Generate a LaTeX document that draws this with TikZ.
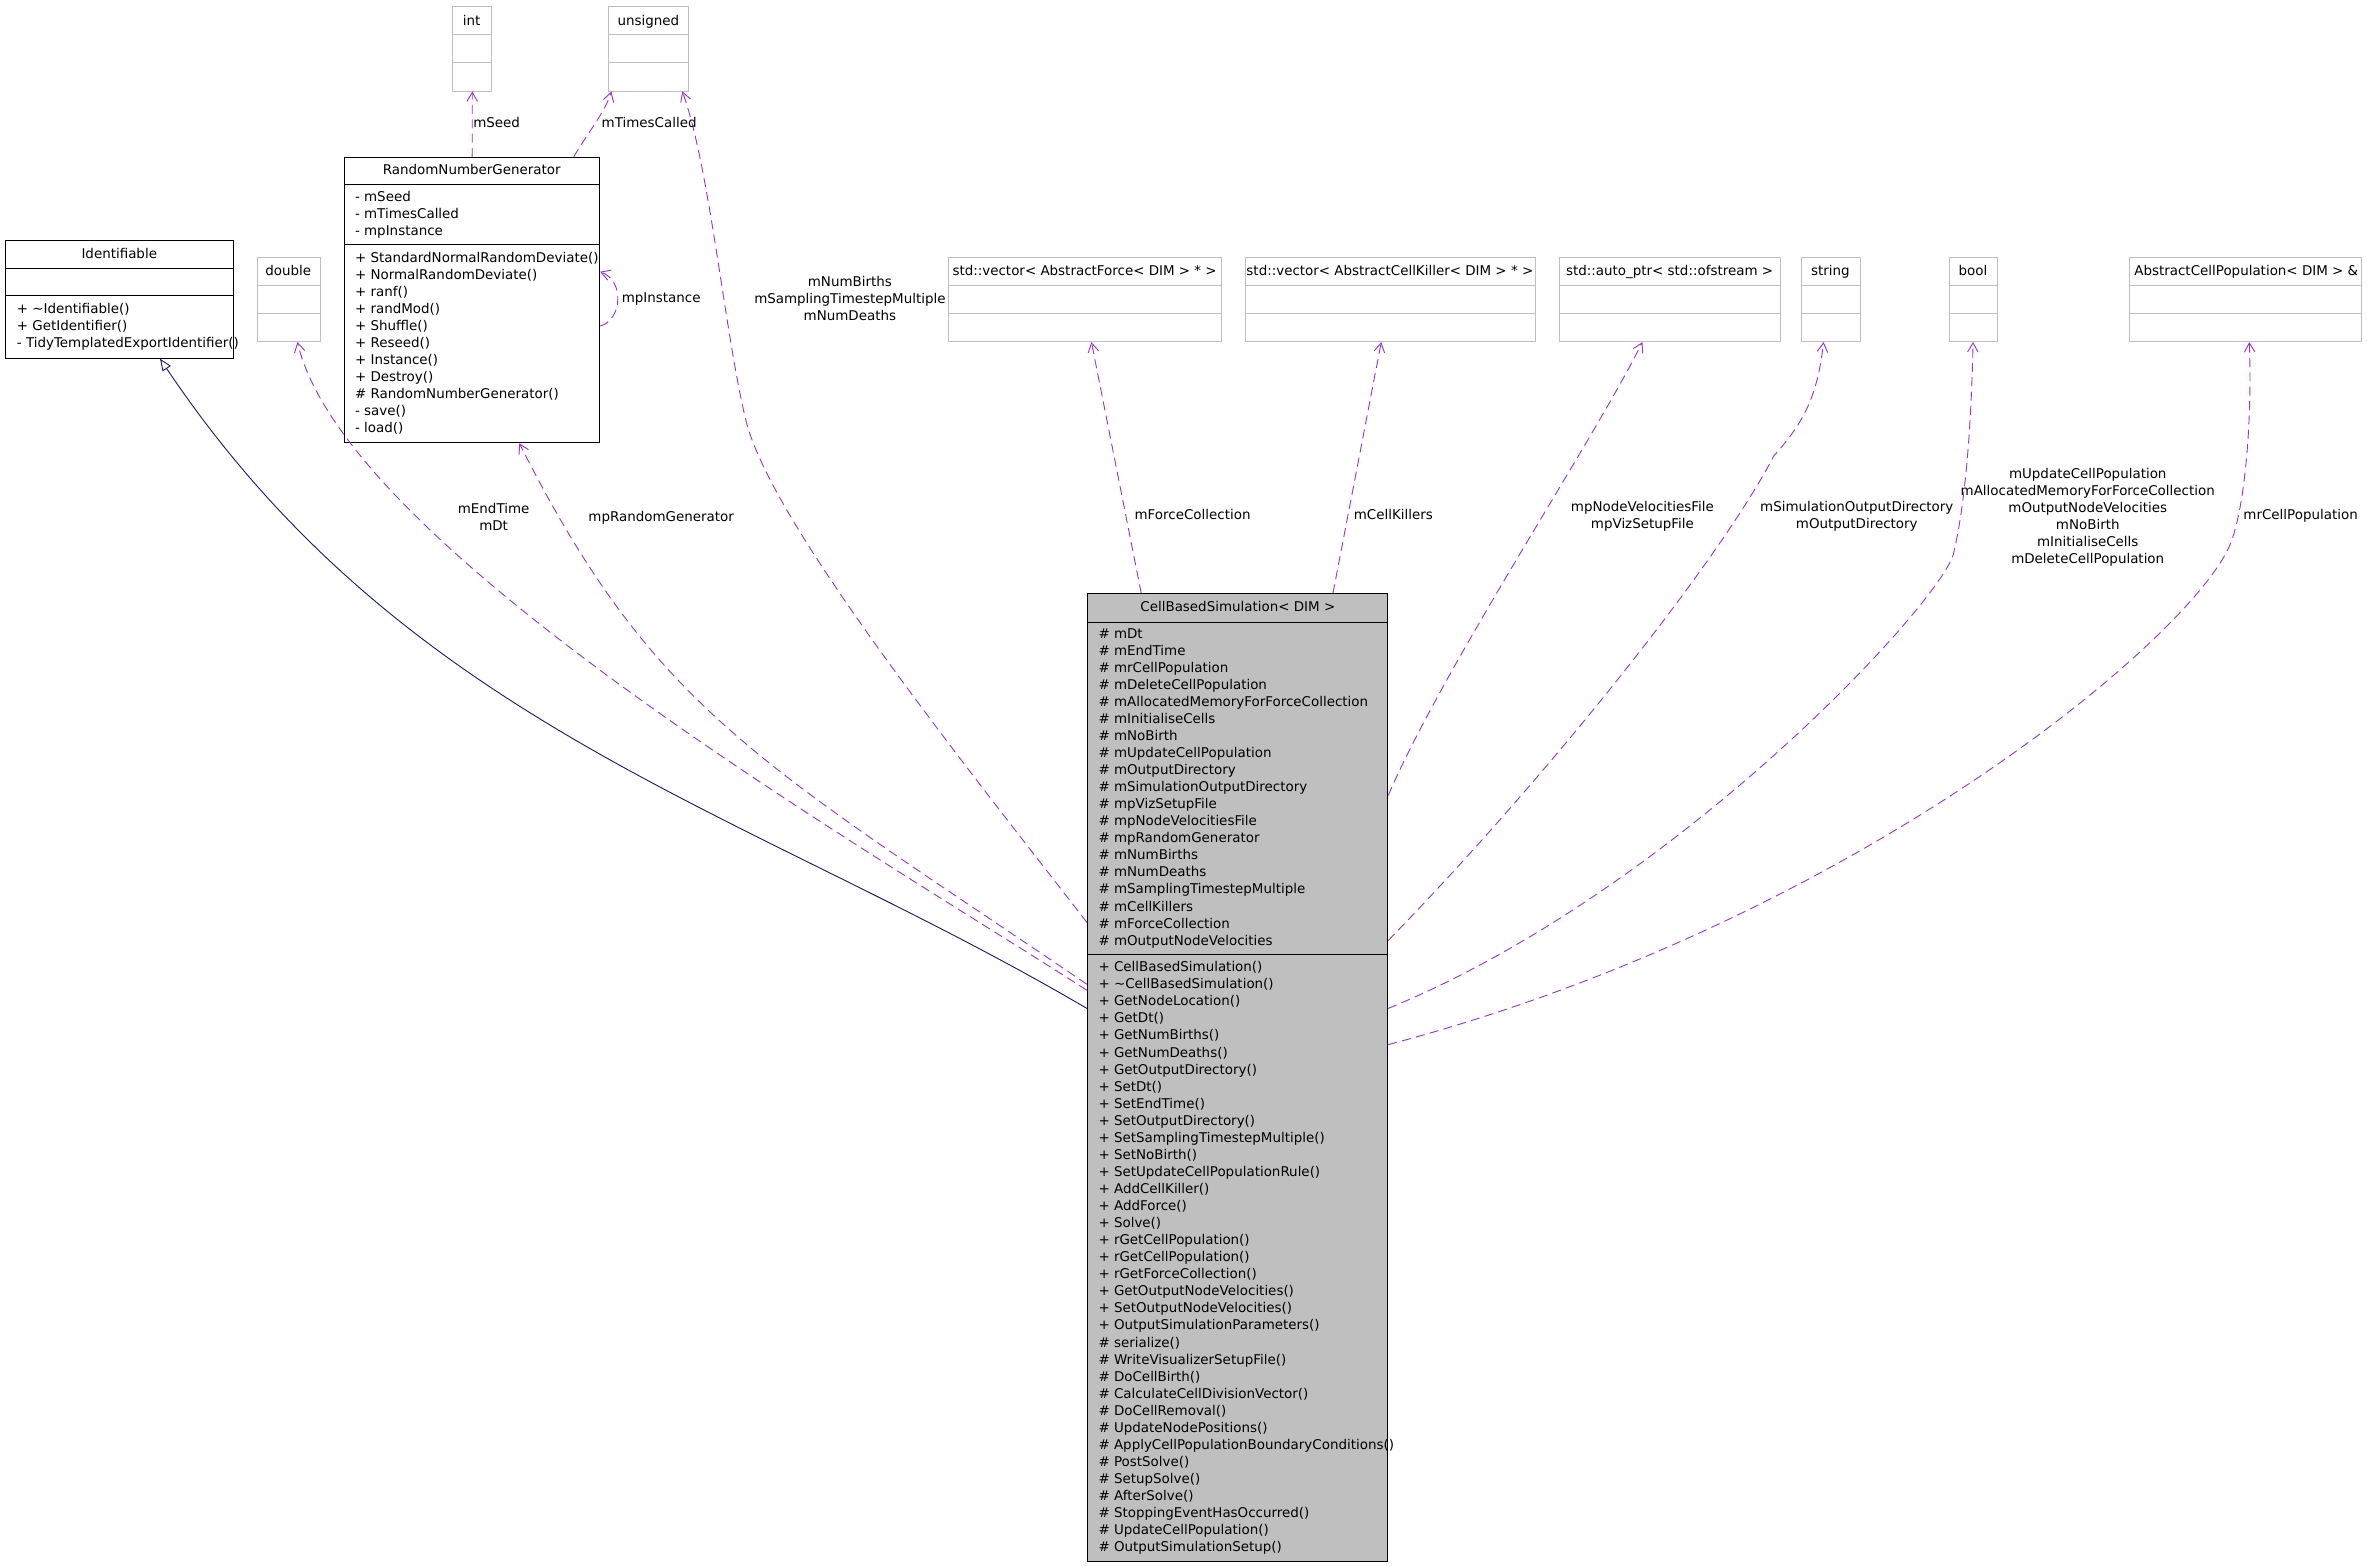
\documentclass[tikz,border=0pt]{standalone}
\usepackage{fontspec}
\setmainfont{DejaVu Sans}
\usetikzlibrary{arrows.meta,calc}
\definecolor{edgepurple}{HTML}{9A32CD}
\definecolor{inhnavy}{HTML}{191970}
\definecolor{boxgray}{HTML}{BFBFBF}
\tikzset{
  txt/.style={inner sep=0pt, font=\fontsize{8.9}{11.2}\selectfont},
  member/.style={txt, anchor=base west},
  ttl/.style={txt, anchor=base},
  lbl/.style={txt, align=center, anchor=center},
  classbox/.style={draw=black, line width=0.6pt, inner sep=0pt, anchor=north west},
  typebox/.style={draw=boxgray, line width=0.6pt, inner sep=0pt, anchor=north west, fill=white},
  sepblack/.style={draw=black, line width=0.6pt},
  sepgray/.style={draw=boxgray, line width=0.6pt},
  uses/.style={draw=edgepurple, line width=0.6pt, dash pattern=on 6pt off 3.5pt,
    -{Straight Barb[length=6pt,width=7pt,line width=0.6pt]}},
  inherits/.style={draw=inhnavy, line width=0.6pt,
    -{Triangle[open,length=8pt,width=6.5pt,line width=0.6pt]}},
}
\begin{document}
\begin{tikzpicture}[x=1pt,y=-1pt]
\useasboundingbox (0,0) rectangle (1568,1037);

% ---------- boxes ----------
\node[classbox, fill=white, minimum width=150.9pt, minimum height=78pt] (ident) at (3.6,159) {};
\node[typebox, minimum width=25.9pt, minimum height=56pt] (intn) at (299.6,4) {};
\node[typebox, minimum width=53pt, minimum height=56pt] (uns) at (403,4) {};
\node[typebox, minimum width=42.3pt, minimum height=56pt] (dbl) at (170,170) {};
\node[classbox, fill=white, minimum width=169pt, minimum height=189pt] (rng) at (228,104) {};
\node[typebox, minimum width=181pt, minimum height=56pt] (force) at (628,170) {};
\node[typebox, minimum width=192.5pt, minimum height=56pt] (killer) at (824.5,170) {};
\node[typebox, minimum width=146pt, minimum height=56pt] (autop) at (1033,170) {};
\node[typebox, minimum width=39pt, minimum height=56pt] (strg) at (1193,170) {};
\node[typebox, minimum width=32pt, minimum height=56pt] (boolb) at (1291,170) {};
\node[typebox, minimum width=154pt, minimum height=56pt] (acp) at (1410,170) {};
\node[classbox, fill=boxgray, minimum width=199pt, minimum height=641pt] (cbs) at (720,393) {};

% compartment separators
\draw[sepblack] ($(ident.north west)+(0,19)$) -- ($(ident.north east)+(0,19)$);
\draw[sepblack] ($(ident.north west)+(0,37)$) -- ($(ident.north east)+(0,37)$);
\draw[sepblack] ($(rng.north west)+(0,18)$) -- ($(rng.north east)+(0,18)$);
\draw[sepblack] ($(rng.north west)+(0,58)$) -- ($(rng.north east)+(0,58)$);
\draw[sepblack] ($(cbs.north west)+(0,19)$) -- ($(cbs.north east)+(0,19)$);
\draw[sepblack] ($(cbs.north west)+(0,239)$) -- ($(cbs.north east)+(0,239)$);
\foreach \b in {intn,uns,dbl,force,killer,autop,strg,boolb,acp}{
  \draw[sepgray] ($(\b.north west)+(0,19)$) -- ($(\b.north east)+(0,19)$);
  \draw[sepgray] ($(\b.north west)+(0,37.5)$) -- ($(\b.north east)+(0,37.5)$);}

% ---------- titles ----------
\node[ttl] (identT) at (79,171.2) {Identifiable};
\node[ttl] (intT) at (312.5,16.8) {int};
\node[ttl] (unsT) at (429.5,16.8) {unsigned};
\node[ttl] (dblT) at (191,182.5) {double};
\node[ttl] (rngT) at (312.5,115.5) {RandomNumberGenerator};
\node[ttl] (forceT) at (718.5,182.5) {std::vector< AbstractForce< DIM > * >};
\node[ttl] (killerT) at (920.7,182.5) {std::vector< AbstractCellKiller< DIM > * >};
\node[ttl] (autopT) at (1106,182.5) {std::auto\_ptr< std::ofstream >};
\node[ttl] (strgT) at (1212.5,182.5) {string};
\node[ttl] (boolT) at (1307,182.5) {bool};
\node[ttl] (acpT) at (1488,182.5) {AbstractCellPopulation< DIM > \&};
\node[ttl] (cbsT) at (820,405) {CellBasedSimulation< DIM >};

% ---------- members ----------
\foreach \t [count=\i] in {{+ \textasciitilde Identifiable()},{+ GetIdentifier()},{- TidyTemplatedExportIdentifier()}}
  \node[member] (identm\i) at (11,{207.7+(\i-1)*11.3}) {\t};

\foreach \t [count=\i] in {{- mSeed},{- mTimesCalled},{- mpInstance}}
  \node[member] (rnga\i) at (235,{133.2+(\i-1)*11.3}) {\t};
\foreach \t [count=\i] in {{+ StandardNormalRandomDeviate()},{+ NormalRandomDeviate()},{+ ranf()},{+ randMod()},{+ Shuffle()},{+ Reseed()},{+ Instance()},{+ Destroy()},{\# RandomNumberGenerator()},{- save()},{- load()}}
  \node[member] (rngm\i) at (235,{174.2+(\i-1)*11.25}) {\t};

\foreach \t [count=\i] in {{\# mDt},{\# mEndTime},{\# mrCellPopulation},{\# mDeleteCellPopulation},{\# mAllocatedMemoryForForceCollection},{\# mInitialiseCells},{\# mNoBirth},{\# mUpdateCellPopulation},{\# mOutputDirectory},{\# mSimulationOutputDirectory},{\# mpVizSetupFile},{\# mpNodeVelocitiesFile},{\# mpRandomGenerator},{\# mNumBirths},{\# mNumDeaths},{\# mSamplingTimestepMultiple},{\# mCellKillers},{\# mForceCollection},{\# mOutputNodeVelocities}}
  \node[member] (cbsa\i) at (727.5,{422.7+(\i-1)*11.3}) {\t};
\foreach \t [count=\i] in {{+ CellBasedSimulation()},{+ \textasciitilde CellBasedSimulation()},{+ GetNodeLocation()},{+ GetDt()},{+ GetNumBirths()},{+ GetNumDeaths()},{+ GetOutputDirectory()},{+ SetDt()},{+ SetEndTime()},{+ SetOutputDirectory()},{+ SetSamplingTimestepMultiple()},{+ SetNoBirth()},{+ SetUpdateCellPopulationRule()},{+ AddCellKiller()},{+ AddForce()},{+ Solve()},{+ rGetCellPopulation()},{+ rGetCellPopulation()},{+ rGetForceCollection()},{+ GetOutputNodeVelocities()},{+ SetOutputNodeVelocities()},{+ OutputSimulationParameters()},{\# serialize()},{\# WriteVisualizerSetupFile()},{\# DoCellBirth()},{\# CalculateCellDivisionVector()},{\# DoCellRemoval()},{\# UpdateNodePositions()},{\# ApplyCellPopulationBoundaryConditions()},{\# PostSolve()},{\# SetupSolve()},{\# AfterSolve()},{\# StoppingEventHasOccurred()},{\# UpdateCellPopulation()},{\# OutputSimulationSetup()}}
  \node[member] (cbsm\i) at (727.5,{643.7+(\i-1)*11.3}) {\t};

% ---------- connectors ----------
\draw[inherits] ($(cbs.north west)+(0,275)$) .. controls (495,536) and (270,482) .. ($(ident.south west)+(102.4,0)$);
\draw[uses] ($(cbs.north west)+(0,263)$) .. controls (584,568) and (230,365) .. ($(dbl.south west)+(27,0)$);
\draw[uses] ($(cbs.north west)+(0,259)$) .. controls (505,506) and (434,472) .. ($(rng.south west)+(116,0)$);
\draw[uses] ($(cbs.north west)+(0,218)$) .. controls (637,504) and (510,345) .. (494,278)
   .. controls (480,220) and (470,110) .. ($(uns.south west)+(49,0)$);
\draw[uses] (rng.north) -- (intn.south);
\draw[uses] ($(rng.north west)+(152,0)$) .. controls (388,90) and (401,74) .. ($(uns.south west)+(2,0)$);
\draw[uses] ($(rng.north east)+(0,112)$) .. controls (412,212) and (414,186) .. ($(rng.north east)+(0,76)$);
\draw[uses] ($(cbs.north west)+(36,0)$) -- ($(force.south west)+(95,0)$);
\draw[uses] ($(cbs.north west)+(163,0)$) -- ($(killer.south west)+(90.5,0)$);
\draw[uses] ($(cbs.north east)+(0,134)$) .. controls (955.3,443.5) and (1055.6,291.8) .. ($(autop.south west)+(55,0)$);
\draw[uses] ($(cbs.north east)+(0,230)$) .. controls (1025,515) and (1140,370) .. (1175,302)
   .. controls (1195,280) and (1204,262) .. ($(strg.south west)+(15,0)$);
\draw[uses] ($(cbs.north east)+(0,275)$) .. controls (1110,590) and (1285,400) .. (1294,367)
   .. controls (1302,334) and (1306,280) .. ($(boolb.south west)+(16,0)$);
\draw[uses] ($(cbs.north east)+(0,299)$) .. controls (1230,610) and (1455,420) .. (1478,359)
   .. controls (1487,335) and (1492,280) .. ($(acp.south west)+(80,0)$);

% ---------- connector labels ----------
\node[ttl] (lSeed) at (329,84.2) {mSeed};
\node[ttl] (lTimes) at (430,84.2) {mTimesCalled};
\node[ttl] (lInst) at (438,200.2) {mpInstance};
\node[lbl] (lBirths) at (563,197.5) {mNumBirths\\mSamplingTimestepMultiple\\mNumDeaths};
\node[lbl] (lDt) at (327,342.5) {mEndTime\\mDt};
\node[ttl] (lRng) at (438,345.2) {mpRandomGenerator};
\node[ttl] (lForce) at (790,344.2) {mForceCollection};
\node[ttl] (lKill) at (923,344.2) {mCellKillers};
\node[lbl] (lFiles) at (1088,342) {mpNodeVelocitiesFile\\mpVizSetupFile};
\node[lbl] (lDirs) at (1230,342) {mSimulationOutputDirectory\\mOutputDirectory};
\node[lbl] (lBool) at (1383,342.5) {mUpdateCellPopulation\\mAllocatedMemoryForForceCollection\\mOutputNodeVelocities\\mNoBirth\\mInitialiseCells\\mDeleteCellPopulation};
\node[ttl] (lPop) at (1524,344.2) {mrCellPopulation};
\end{tikzpicture}
\end{document}
